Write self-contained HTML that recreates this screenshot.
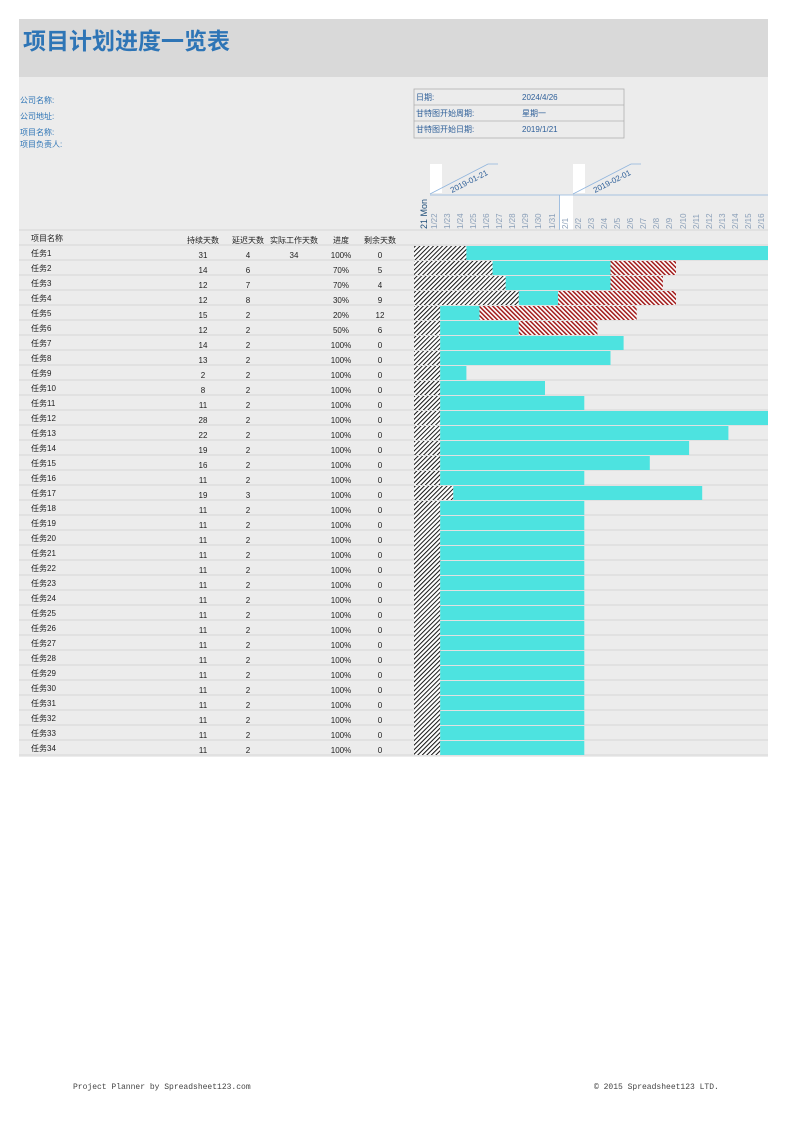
<!DOCTYPE html>
<html><head><meta charset="utf-8"><style>
html,body{margin:0;padding:0;background:#fff;}
svg text{font-family:"Liberation Sans","Noto Sans CJK SC",sans-serif;}
</style></head><body>
<svg width="793" height="1122" viewBox="0 0 793 1122" xmlns="http://www.w3.org/2000/svg">
<defs>
<pattern id="hb" width="3.2" height="3.2" patternUnits="userSpaceOnUse" patternTransform="rotate(45)">
<rect width="3.2" height="3.2" fill="#fff"/><rect width="1" height="3.2" fill="#111"/></pattern>
<pattern id="hr" width="3.2" height="3.2" patternUnits="userSpaceOnUse" patternTransform="rotate(-45)">
<rect width="3.2" height="3.2" fill="#fff"/><rect width="1.5" height="3.2" fill="#a01818"/></pattern>
<clipPath id="cl"><rect x="414" y="0" width="354" height="1122"/></clipPath>
</defs>
<rect x="19" y="19" width="749" height="738" fill="#ececec"/>
<rect x="19" y="19" width="749" height="58" fill="#d9d9d9"/>
<text x="23" y="49" font-size="23" font-weight="bold" fill="#2e75b6">项目计划进度一览表</text>
<g font-size="8" fill="#2e75b6">
<text x="20" y="103">公司名称:</text><text x="20" y="119">公司地址:</text>
<text x="20" y="135">项目名称:</text><text x="20" y="147">项目负责人:</text>
</g>
<g fill="none" stroke="#b0b0b0" stroke-width="0.8">
<rect x="414" y="89" width="210" height="49"/><line x1="414" y1="105" x2="624" y2="105"/><line x1="414" y1="121" x2="624" y2="121"/>
</g>
<g font-size="8" fill="#2e5f99">
<text x="416" y="100">日期:</text><text x="522" y="100">2024/4/26</text>
<text x="416" y="116">甘特图开始周期:</text><text x="522" y="116">星期一</text>
<text x="416" y="132">甘特图开始日期:</text><text x="522" y="132">2019/1/21</text>
</g>
<rect x="430" y="164" width="12" height="29" fill="#fff"/>
<rect x="573" y="164" width="12" height="29" fill="#fff"/>
<rect x="560" y="195" width="13" height="35" fill="#fff"/>
<g stroke="#8fb4dd" stroke-width="0.8" fill="none">
<polyline points="430,194 488,164 498,164"/><polyline points="573,194 631,164 641,164"/>
<line x1="430" y1="195" x2="768" y2="195"/><line x1="559.5" y1="195" x2="559.5" y2="230"/>
</g>
<g font-size="8" fill="#2e5f99">
<text transform="translate(452,193) rotate(-27)">2019-01-21</text>
<text transform="translate(595,193) rotate(-27)">2019-02-01</text>
</g>
<text transform="translate(427,229) rotate(-90)" font-size="9" fill="#1f4e79">21 Mon</text>
<g font-size="8" fill="#8a9fb8">
<text transform="translate(437,229) rotate(-90)">1/22</text>
<text transform="translate(450,229) rotate(-90)">1/23</text>
<text transform="translate(463,229) rotate(-90)">1/24</text>
<text transform="translate(476,229) rotate(-90)">1/25</text>
<text transform="translate(489,229) rotate(-90)">1/26</text>
<text transform="translate(502,229) rotate(-90)">1/27</text>
<text transform="translate(515,229) rotate(-90)">1/28</text>
<text transform="translate(528,229) rotate(-90)">1/29</text>
<text transform="translate(541,229) rotate(-90)">1/30</text>
<text transform="translate(555,229) rotate(-90)">1/31</text>
<text transform="translate(568,229) rotate(-90)">2/1</text>
<text transform="translate(581,229) rotate(-90)">2/2</text>
<text transform="translate(594,229) rotate(-90)">2/3</text>
<text transform="translate(607,229) rotate(-90)">2/4</text>
<text transform="translate(620,229) rotate(-90)">2/5</text>
<text transform="translate(633,229) rotate(-90)">2/6</text>
<text transform="translate(646,229) rotate(-90)">2/7</text>
<text transform="translate(659,229) rotate(-90)">2/8</text>
<text transform="translate(672,229) rotate(-90)">2/9</text>
<text transform="translate(686,229) rotate(-90)">2/10</text>
<text transform="translate(699,229) rotate(-90)">2/11</text>
<text transform="translate(712,229) rotate(-90)">2/12</text>
<text transform="translate(725,229) rotate(-90)">2/13</text>
<text transform="translate(738,229) rotate(-90)">2/14</text>
<text transform="translate(751,229) rotate(-90)">2/15</text>
<text transform="translate(764,229) rotate(-90)">2/16</text>
</g>
<g stroke="#cfcfcf" stroke-width="0.8">
<line x1="19" y1="230" x2="768" y2="230"/><line x1="19" y1="245" x2="768" y2="245"/>
<line x1="19" y1="260" x2="768" y2="260"/><line x1="19" y1="275" x2="768" y2="275"/><line x1="19" y1="290" x2="768" y2="290"/><line x1="19" y1="305" x2="768" y2="305"/><line x1="19" y1="320" x2="768" y2="320"/><line x1="19" y1="335" x2="768" y2="335"/><line x1="19" y1="350" x2="768" y2="350"/><line x1="19" y1="365" x2="768" y2="365"/><line x1="19" y1="380" x2="768" y2="380"/><line x1="19" y1="395" x2="768" y2="395"/><line x1="19" y1="410" x2="768" y2="410"/><line x1="19" y1="425" x2="768" y2="425"/><line x1="19" y1="440" x2="768" y2="440"/><line x1="19" y1="455" x2="768" y2="455"/><line x1="19" y1="470" x2="768" y2="470"/><line x1="19" y1="485" x2="768" y2="485"/><line x1="19" y1="500" x2="768" y2="500"/><line x1="19" y1="515" x2="768" y2="515"/><line x1="19" y1="530" x2="768" y2="530"/><line x1="19" y1="545" x2="768" y2="545"/><line x1="19" y1="560" x2="768" y2="560"/><line x1="19" y1="575" x2="768" y2="575"/><line x1="19" y1="590" x2="768" y2="590"/><line x1="19" y1="605" x2="768" y2="605"/><line x1="19" y1="620" x2="768" y2="620"/><line x1="19" y1="635" x2="768" y2="635"/><line x1="19" y1="650" x2="768" y2="650"/><line x1="19" y1="665" x2="768" y2="665"/><line x1="19" y1="680" x2="768" y2="680"/><line x1="19" y1="695" x2="768" y2="695"/><line x1="19" y1="710" x2="768" y2="710"/><line x1="19" y1="725" x2="768" y2="725"/><line x1="19" y1="740" x2="768" y2="740"/><line x1="19" y1="755" x2="768" y2="755"/>
</g>
<g clip-path="url(#cl)">
<rect x="414" y="246" width="52.4" height="14" fill="url(#hb)"/><rect x="466.4" y="246" width="302" height="14" fill="#4de3e0"/>
<rect x="414" y="261" width="78.6" height="14" fill="url(#hb)"/><rect x="492.6" y="261" width="117.9" height="14" fill="#4de3e0"/><rect x="610.5" y="261" width="65.5" height="14" fill="url(#hr)"/>
<rect x="414" y="276" width="91.7" height="14" fill="url(#hb)"/><rect x="505.7" y="276" width="104.8" height="14" fill="#4de3e0"/><rect x="610.5" y="276" width="52.4" height="14" fill="url(#hr)"/>
<rect x="414" y="291" width="104.8" height="14" fill="url(#hb)"/><rect x="518.8" y="291" width="39.3" height="14" fill="#4de3e0"/><rect x="558.1" y="291" width="117.9" height="14" fill="url(#hr)"/>
<rect x="414" y="306" width="26.2" height="14" fill="url(#hb)"/><rect x="440.2" y="306" width="39.3" height="14" fill="#4de3e0"/><rect x="479.5" y="306" width="157.2" height="14" fill="url(#hr)"/>
<rect x="414" y="321" width="26.2" height="14" fill="url(#hb)"/><rect x="440.2" y="321" width="78.6" height="14" fill="#4de3e0"/><rect x="518.8" y="321" width="78.6" height="14" fill="url(#hr)"/>
<rect x="414" y="336" width="26.2" height="14" fill="url(#hb)"/><rect x="440.2" y="336" width="183.4" height="14" fill="#4de3e0"/>
<rect x="414" y="351" width="26.2" height="14" fill="url(#hb)"/><rect x="440.2" y="351" width="170.3" height="14" fill="#4de3e0"/>
<rect x="414" y="366" width="26.2" height="14" fill="url(#hb)"/><rect x="440.2" y="366" width="26.2" height="14" fill="#4de3e0"/>
<rect x="414" y="381" width="26.2" height="14" fill="url(#hb)"/><rect x="440.2" y="381" width="104.8" height="14" fill="#4de3e0"/>
<rect x="414" y="396" width="26.2" height="14" fill="url(#hb)"/><rect x="440.2" y="396" width="144.1" height="14" fill="#4de3e0"/>
<rect x="414" y="411" width="26.2" height="14" fill="url(#hb)"/><rect x="440.2" y="411" width="340" height="14" fill="#4de3e0"/>
<rect x="414" y="426" width="26.2" height="14" fill="url(#hb)"/><rect x="440.2" y="426" width="288.2" height="14" fill="#4de3e0"/>
<rect x="414" y="441" width="26.2" height="14" fill="url(#hb)"/><rect x="440.2" y="441" width="248.9" height="14" fill="#4de3e0"/>
<rect x="414" y="456" width="26.2" height="14" fill="url(#hb)"/><rect x="440.2" y="456" width="209.6" height="14" fill="#4de3e0"/>
<rect x="414" y="471" width="26.2" height="14" fill="url(#hb)"/><rect x="440.2" y="471" width="144.1" height="14" fill="#4de3e0"/>
<rect x="414" y="486" width="39.3" height="14" fill="url(#hb)"/><rect x="453.3" y="486" width="248.9" height="14" fill="#4de3e0"/>
<rect x="414" y="501" width="26.2" height="254" fill="url(#hb)"/>
<g fill="#4de3e0">
<rect x="440.2" y="501" width="144.1" height="14"/><rect x="440.2" y="516" width="144.1" height="14"/><rect x="440.2" y="531" width="144.1" height="14"/><rect x="440.2" y="546" width="144.1" height="14"/><rect x="440.2" y="561" width="144.1" height="14"/><rect x="440.2" y="576" width="144.1" height="14"/><rect x="440.2" y="591" width="144.1" height="14"/><rect x="440.2" y="606" width="144.1" height="14"/><rect x="440.2" y="621" width="144.1" height="14"/><rect x="440.2" y="636" width="144.1" height="14"/><rect x="440.2" y="651" width="144.1" height="14"/><rect x="440.2" y="666" width="144.1" height="14"/><rect x="440.2" y="681" width="144.1" height="14"/><rect x="440.2" y="696" width="144.1" height="14"/><rect x="440.2" y="711" width="144.1" height="14"/><rect x="440.2" y="726" width="144.1" height="14"/><rect x="440.2" y="741" width="144.1" height="14"/>
</g>
</g>
<g font-size="8" fill="#222">
<text x="31" y="241">项目名称</text>
<g text-anchor="middle"><text x="203" y="243">持续天数</text><text x="248" y="243">延迟天数</text><text x="294" y="243">实际工作天数</text><text x="341" y="243">进度</text><text x="380" y="243">剩余天数</text></g>
<text x="31" y="256">任务1</text><text x="31" y="271">任务2</text><text x="31" y="286">任务3</text><text x="31" y="301">任务4</text><text x="31" y="316">任务5</text><text x="31" y="331">任务6</text><text x="31" y="346">任务7</text><text x="31" y="361">任务8</text><text x="31" y="376">任务9</text><text x="31" y="391">任务10</text><text x="31" y="406">任务11</text><text x="31" y="421">任务12</text><text x="31" y="436">任务13</text><text x="31" y="451">任务14</text><text x="31" y="466">任务15</text><text x="31" y="481">任务16</text><text x="31" y="496">任务17</text><text x="31" y="511">任务18</text><text x="31" y="526">任务19</text><text x="31" y="541">任务20</text><text x="31" y="556">任务21</text><text x="31" y="571">任务22</text><text x="31" y="586">任务23</text><text x="31" y="601">任务24</text><text x="31" y="616">任务25</text><text x="31" y="631">任务26</text><text x="31" y="646">任务27</text><text x="31" y="661">任务28</text><text x="31" y="676">任务29</text><text x="31" y="691">任务30</text><text x="31" y="706">任务31</text><text x="31" y="721">任务32</text><text x="31" y="736">任务33</text><text x="31" y="751">任务34</text>
<g text-anchor="middle">
<text x="203" y="258">31</text><text x="248" y="258">4</text><text x="294" y="258">34</text><text x="341" y="258">100%</text><text x="380" y="258">0</text>
<text x="203" y="273">14</text><text x="248" y="273">6</text><text x="341" y="273">70%</text><text x="380" y="273">5</text>
<text x="203" y="288">12</text><text x="248" y="288">7</text><text x="341" y="288">70%</text><text x="380" y="288">4</text>
<text x="203" y="303">12</text><text x="248" y="303">8</text><text x="341" y="303">30%</text><text x="380" y="303">9</text>
<text x="203" y="318">15</text><text x="248" y="318">2</text><text x="341" y="318">20%</text><text x="380" y="318">12</text>
<text x="203" y="333">12</text><text x="248" y="333">2</text><text x="341" y="333">50%</text><text x="380" y="333">6</text>
<text x="203" y="348">14</text><text x="248" y="348">2</text><text x="341" y="348">100%</text><text x="380" y="348">0</text>
<text x="203" y="363">13</text><text x="248" y="363">2</text><text x="341" y="363">100%</text><text x="380" y="363">0</text>
<text x="203" y="378">2</text><text x="248" y="378">2</text><text x="341" y="378">100%</text><text x="380" y="378">0</text>
<text x="203" y="393">8</text><text x="248" y="393">2</text><text x="341" y="393">100%</text><text x="380" y="393">0</text>
<text x="203" y="408">11</text><text x="248" y="408">2</text><text x="341" y="408">100%</text><text x="380" y="408">0</text>
<text x="203" y="423">28</text><text x="248" y="423">2</text><text x="341" y="423">100%</text><text x="380" y="423">0</text>
<text x="203" y="438">22</text><text x="248" y="438">2</text><text x="341" y="438">100%</text><text x="380" y="438">0</text>
<text x="203" y="453">19</text><text x="248" y="453">2</text><text x="341" y="453">100%</text><text x="380" y="453">0</text>
<text x="203" y="468">16</text><text x="248" y="468">2</text><text x="341" y="468">100%</text><text x="380" y="468">0</text>
<text x="203" y="483">11</text><text x="248" y="483">2</text><text x="341" y="483">100%</text><text x="380" y="483">0</text>
<text x="203" y="498">19</text><text x="248" y="498">3</text><text x="341" y="498">100%</text><text x="380" y="498">0</text>
<text x="203" y="513">11</text><text x="248" y="513">2</text><text x="341" y="513">100%</text><text x="380" y="513">0</text>
<text x="203" y="528">11</text><text x="248" y="528">2</text><text x="341" y="528">100%</text><text x="380" y="528">0</text>
<text x="203" y="543">11</text><text x="248" y="543">2</text><text x="341" y="543">100%</text><text x="380" y="543">0</text>
<text x="203" y="558">11</text><text x="248" y="558">2</text><text x="341" y="558">100%</text><text x="380" y="558">0</text>
<text x="203" y="573">11</text><text x="248" y="573">2</text><text x="341" y="573">100%</text><text x="380" y="573">0</text>
<text x="203" y="588">11</text><text x="248" y="588">2</text><text x="341" y="588">100%</text><text x="380" y="588">0</text>
<text x="203" y="603">11</text><text x="248" y="603">2</text><text x="341" y="603">100%</text><text x="380" y="603">0</text>
<text x="203" y="618">11</text><text x="248" y="618">2</text><text x="341" y="618">100%</text><text x="380" y="618">0</text>
<text x="203" y="633">11</text><text x="248" y="633">2</text><text x="341" y="633">100%</text><text x="380" y="633">0</text>
<text x="203" y="648">11</text><text x="248" y="648">2</text><text x="341" y="648">100%</text><text x="380" y="648">0</text>
<text x="203" y="663">11</text><text x="248" y="663">2</text><text x="341" y="663">100%</text><text x="380" y="663">0</text>
<text x="203" y="678">11</text><text x="248" y="678">2</text><text x="341" y="678">100%</text><text x="380" y="678">0</text>
<text x="203" y="693">11</text><text x="248" y="693">2</text><text x="341" y="693">100%</text><text x="380" y="693">0</text>
<text x="203" y="708">11</text><text x="248" y="708">2</text><text x="341" y="708">100%</text><text x="380" y="708">0</text>
<text x="203" y="723">11</text><text x="248" y="723">2</text><text x="341" y="723">100%</text><text x="380" y="723">0</text>
<text x="203" y="738">11</text><text x="248" y="738">2</text><text x="341" y="738">100%</text><text x="380" y="738">0</text>
<text x="203" y="753">11</text><text x="248" y="753">2</text><text x="341" y="753">100%</text><text x="380" y="753">0</text>
</g>
</g>
<g font-size="8" fill="#444">
<text x="73" y="1089" style="font-family:'Liberation Mono',monospace">Project Planner by Spreadsheet123.com</text>
<text x="594" y="1089" style="font-family:'Liberation Mono',monospace">© 2015 Spreadsheet123 LTD.</text>
</g>
</svg>
</body></html>
